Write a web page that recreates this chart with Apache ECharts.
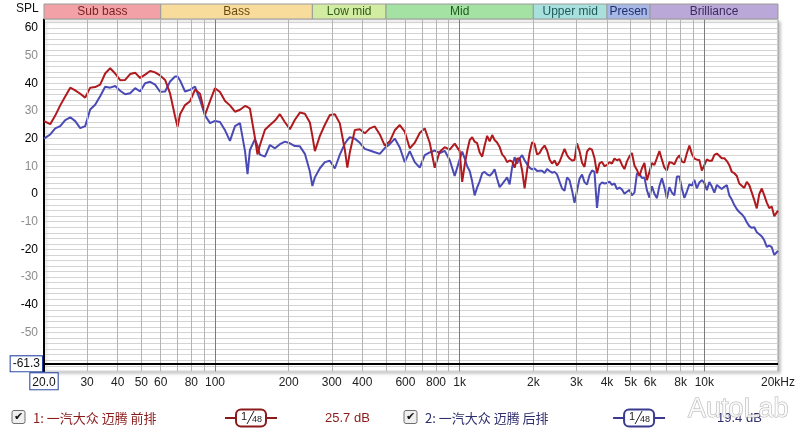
<!DOCTYPE html>
<html><head><meta charset="utf-8">
<script src="https://cdn.jsdelivr.net/npm/echarts@6/dist/echarts.min.js"></script>
<style>html,body{margin:0;padding:0;background:#fff}#c{width:800px;height:434px}</style>
</head><body><div id="c"></div>
<script>
// ---------- data ----------
const freqs = [
 20, 21.21, 22.23, 23.30, 24.42, 25.60, 26.83, 28.12, 29.47, 30.89,
 32.37, 33.93, 35.56, 37.28, 39.07, 40.95, 42.92, 44.99, 47.15, 49.42,
 51.80, 54.29, 56.90, 59.64, 62.51, 65.51, 68.67, 70.30, 71.97, 75.43,
 79.06, 82.86, 86.85, 91.03, 95.41,
 100, 104.8, 109.9, 115.1, 120.7, 126.5, 132.6, 135.8, 138.9, 145.6,
 149.1, 152.6, 160.0, 167.7, 175.8, 184.2, 193.1, 202.4, 212.1, 222.3,
 233.0, 244.2, 250.0, 256.0, 268.3, 281.2, 294.7, 308.9, 323.7, 339.3,
 347.4, 355.6, 372.8, 390.7, 409.5, 429.2, 449.9, 471.5, 494.2, 518.0,
 542.9, 569.0, 596.4, 625.1, 655.1, 686.7, 719.7, 754.3, 790.6, 828.6,
 868.5, 910.3, 954.1,
 1000, 1024, 1048, 1073, 1099, 1125, 1151, 1178, 1207, 1236,
 1265, 1295, 1326, 1358, 1389, 1422, 1456, 1491, 1526, 1562,
 1600, 1638, 1677, 1717, 1758, 1800, 1842, 1886, 1931, 1977,
 2024, 2072, 2121, 2171, 2223, 2276, 2330, 2385, 2442, 2500,
 2560, 2621, 2683, 2747, 2812, 2879, 2947, 3017, 3089, 3163,
 3237, 3314, 3393, 3474, 3556, 3641, 3728, 3817, 3907, 4000,
 4095, 4192, 4292, 4394, 4499, 4606, 4715, 4827, 4942, 5060,
 5180, 5303, 5429, 5558, 5690, 5825, 5964, 6106, 6251, 6400,
 6551, 6707, 6867, 7030, 7197, 7368, 7543, 7723, 7906, 8094,
 8286, 8483, 8685, 8892, 9103, 9320, 9541, 9768, 10000, 10240,
 10480, 10730, 10990, 11250, 11510, 11780, 12070, 12360, 12650, 12950,
 13260, 13580, 13890, 14220, 14560, 14910, 15260, 15620, 16000, 16380,
 16770, 17170, 17580, 18000, 18420, 18860, 19310, 20000
];
const frontRow = [
 26.3, 25.2, 28.3, 32.0, 35.2, 38.4, 37.4, 36.2, 34.8, 38.4,
 38.6, 39.5, 43.5, 45.4, 43.5, 41.1, 41.2, 43.3, 43.8, 41.9,
 43.1, 44.4, 43.9, 42.8, 41.2, 36.3, 28.0, 24.3, 28.8, 32.1,
 33.5, 37.7, 36.2, 28.6, 33.5,
 38.2, 36.8, 33.6, 32.0, 29.7, 30.4, 31.8, 31.4, 30.8, 20.3,
 14.3, 17.6, 23.2, 24.9, 26.5, 28.8, 25.9, 23.4, 26.8, 29.4,
 29.0, 25.8, 21.0, 15.5, 21.0, 25.0, 28.5, 28.8, 25.5, 16.0,
 9.5, 15.0, 23.1, 23.4, 21.9, 23.7, 24.4, 21.5, 17.5, 19.0,
 23.0, 24.9, 22.5, 16.5, 18.5, 22.0, 23.7, 18.5, 9.5, 15.3,
 16.9, 16.0, 18.2,
 15.5, 4.4, 10.5, 15.5, 19.5, 20.5, 18.9, 18.4, 15.0, 13.5,
 17.5, 21.0, 19.0, 21.3, 19.5, 18.6, 17.0, 14.3, 13.3, 11.5,
 12.1, 11.8, 9.5, 12.8, 12.8, 8.5, 2.0, 8.6, 14.8, 18.7,
 18.0, 14.3, 14.8, 16.4, 17.5, 15.7, 12.5, 11.0, 12.1, 10.3,
 11.6, 14.0, 16.3, 14.0, 12.8, 12.1, 12.3, 18.3, 15.5, 11.3,
 9.8, 15.3, 16.5, 16.0, 13.0, 7.5, 11.1, 11.6, 10.0, 10.5,
 11.5, 11.0, 12.8, 12.2, 12.6, 10.5, 9.0, 11.8, 13.6, 14.8,
 10.3, 8.7, 6.5, 9.3, 11.2, 5.0, 8.0, 11.2, 10.5, 13.0,
 15.5, 12.4, 9.5, 8.5, 11.5, 11.3, 10.7, 12.8, 14.0, 11.7,
 11.4, 14.7, 17.5, 14.5, 12.8, 12.4, 12.3, 8.5, 10.4, 12.5,
 12.0, 12.0, 14.1, 14.6, 13.8, 12.9, 12.9, 11.9, 10.4, 8.0,
 7.5, 6.5, 3.8, 3.0, 2.2, 4.4, 3.2, 0.6, -2.2, -5.2,
 0.0, 2.0, -0.5, -3.1, -5.1, -4.5, -8.0, -6.0
];
const rearRow = [
 20.0, 21.5, 23.7, 24.5, 26.7, 27.7, 26.3, 23.8, 24.5, 30.5,
 32.2, 35.3, 38.7, 38.4, 39.0, 37.3, 36.0, 36.4, 38.2, 37.0,
 40.0, 40.5, 39.5, 36.9, 37.0, 40.6, 42.4, 42.4, 41.0, 37.0,
 37.6, 38.8, 34.0, 28.4, 25.6,
 26.4, 26.0, 23.0, 19.2, 24.5, 25.6, 15.5, 7.2, 15.9, 19.8,
 17.5, 14.2, 13.5, 17.7, 16.5, 18.0, 18.9, 18.3, 17.3, 17.2,
 14.5, 8.1, 2.9, 6.0, 9.3, 11.5, 12.0, 9.2, 14.2, 18.2,
 19.5, 20.5, 20.0, 18.5, 16.3, 15.7, 15.1, 14.5, 16.6, 18.0,
 20.0, 16.8, 11.5, 15.5, 11.5, 9.5, 14.0, 15.0, 15.7, 14.8,
 15.6, 12.3, 6.5,
 12.5, 15.3, 12.9, 10.0, 8.3, 4.5, -0.5, 2.3, 4.6, 7.5,
 8.0, 7.1, 6.6, 7.5, 8.9, 5.5, 2.5, 3.6, 4.7, 6.0,
 3.5, 9.7, 13.3, 11.0, 12.9, 14.0, 12.2, 10.8, 9.5, 8.9,
 9.2, 8.3, 8.4, 8.4, 7.6, 9.0, 8.3, 7.7, 8.0, 7.1,
 4.5, 2.0, 1.2, 6.0, 5.0, 1.3, -3.2, 1.2, 5.5, 7.0,
 4.3, 3.4, 6.8, 8.5, 8.0, -5.0, 3.2, 4.2, 3.8, 4.0,
 4.5, 3.3, 3.8, 1.8, 2.3, 1.6, 0.1, 0.8, 1.5, -0.5,
 0.5, 7.4, 7.3, 5.8, 6.0, 1.4, -1.3, 2.8, 0.1, -1.5,
 2.9, 5.7, 2.4, -1.6, 2.5, 0.5, -0.5, 6.3, 6.3, 2.0,
 -1.4, 0.9, 3.5, 3.0, 5.1, 2.0, 4.2, 5.0, 4.0, 1.4,
 4.3, 2.7, 0.5, 3.3, 2.5, 1.8, 2.6, 3.2, -0.5, -2.0,
 -4.0, -5.5, -6.5, -7.3, -8.4, -10.2, -11.6, -12.2, -12.0, -13.8,
 -14.5, -15.3, -16.7, -19.1, -18.6, -19.2, -22.0, -20.5
];
const gridFreqs = [30,40,50,60,70,80,90,100,200,300,400,500,600,700,800,900,
  1000,2000,3000,4000,5000,6000,7000,8000,9000,10000];
const majorFreqs = [100,1000,10000];
const xTickLabels = [20,30,40,50,60,80,100,200,300,400,600,800,1000,2000,3000,4000,5000,6000,8000,10000,20000];
const bandNames = ['Sub bass','Bass','Low mid','Mid','Upper mid','Presen','Brilliance'];
const bandEdges = [20,60,250,500,2000,4000,6000,20000];
const bandColors = ['#f2a2a6','#f7dc9c','#d2eca2','#a4e2a4','#a8e0de','#a8b8e6','#baa8d8'];
const bandTextColors = ['#7a1e1e','#6b4a10','#2e5a1a','#1e5a1e','#1e5a5a','#1e2e6e','#3e2a5e'];
const minLevel = -61.3;
const seriesNames = ['1: 一汽大众 迈腾 前排','2: 一汽大众 迈腾 后排'];
const seriesLevels = ['25.7 dB','19.4 dB'];
const smoothingLabel = ['1', '48'];

// ---------- chart ----------
const FONT = 'Liberation Sans, Arial, sans-serif';
const redC = '#b01a1e', blueC = '#4a4ab6';
const fmtFreq = f => f === 20 ? '20.0' : f === 20000 ? '20kHz' : f >= 1000 ? (f/1000)+'k' : String(f);

const markLineData = [];
gridFreqs.forEach(f => markLineData.push({
  xAxis: f, lineStyle: {color: majorFreqs.includes(f) ? '#7c7c7c' : '#b4b4b4', width: 1, type: 'solid'},
  label: {show: false}
}));
xTickLabels.forEach(f => markLineData.push({
  xAxis: f, lineStyle: {color: 'rgba(0,0,0,0)', width: 0},
  label: f === 20 ? {
    show: true, position: 'start', distance: 2, formatter: fmtFreq(f), color: '#111',
    fontSize: 12, fontFamily: FONT, borderColor: '#2040a0', borderWidth: 1,
    backgroundColor: '#fff', padding: [3, 2, 1, 2]
  } : {
    show: true, position: 'start', distance: 5, formatter: fmtFreq(f), color: '#222',
    fontSize: 12, fontFamily: FONT
  }
}));
markLineData.push({
  yAxis: minLevel, lineStyle: {color: '#000', width: 2, type: 'solid'},
  label: {show: true, position: 'start', distance: 2, formatter: String(minLevel), color: '#111',
    fontSize: 12, fontFamily: FONT, borderColor: '#2040a0', borderWidth: 1,
    backgroundColor: '#fff', padding: [2, 2, 1, 2]}
});

function legendItem(i, x0, color, txtColor) {
  const cy = 418;
  const sym = [225, 277, 236], lvlX = 325, txtX = 33;
  const dx = x0 - 12;
  const sx = dx * 0.99;
  return [
    {type:'rect', shape:{x:x0, y:410.5, width:13, height:13, r:2}, style:{fill:'#efefef', stroke:'#6e6e6e', lineWidth:1}},
    {type:'text', x:x0+6.5, y:417, style:{text:'✔', fontSize:11, fontFamily:'DejaVu Sans', fill:'#111', align:'center', verticalAlign:'middle'}},
    {type:'text', x:txtX+dx, y:cy, style:{text:seriesNames[i], fontSize:13, fontFamily:'Noto Sans CJK SC', fill:txtColor, verticalAlign:'middle'}},
    {type:'line', shape:{x1:sym[0]+sx, y1:cy, x2:sym[1]+sx, y2:cy}, style:{stroke:color, lineWidth:2}},
    {type:'rect', shape:{x:sym[2]+sx, y:409.5, width:30, height:17, r:5}, style:{fill:'#fff', stroke:color, lineWidth:2}},
    {type:'text', x:sym[2]+sx+5, y:411, style:{text:smoothingLabel[0], fontSize:11, fontFamily:FONT, fill:'#222'}},
    {type:'line', shape:{x1:sym[2]+sx+11, y1:424, x2:sym[2]+sx+18, y2:411}, style:{stroke:'#222', lineWidth:1}},
    {type:'text', x:sym[2]+sx+16, y:415.5, style:{text:smoothingLabel[1], fontSize:9, fontFamily:FONT, fill:'#222'}},
    {type:'text', x:lvlX+dx, y:cy, style:{text:seriesLevels[i], fontSize:13, fontFamily:FONT, fill:txtColor, verticalAlign:'middle'}}
  ];
}

const option = {
  animation: false,
  backgroundColor: '#fff',
  grid: [
    {left: 44, right: 22, top: 19.5, bottom: 62.7, show: true, backgroundColor: '#fff',
     borderColor: '#9a9a9a', borderWidth: 1, shadowColor: 'rgba(0,0,0,0.25)', shadowBlur: 3,
     shadowOffsetX: 2, shadowOffsetY: 2},
    {left: 44, right: 22, top: 4, height: 15}
  ],
  xAxis: [
    {type: 'log', logBase: 10, min: 20, max: 20000, gridIndex: 0,
     axisLine: {show: false}, axisTick: {show: false}, axisLabel: {show: false}, splitLine: {show: false}},
    {type: 'log', logBase: 10, min: 20, max: 20000, gridIndex: 1, show: false}
  ],
  yAxis: [
    {type: 'value', min: -64, max: 63, interval: 2, gridIndex: 0,
     axisLine: {show: true, onZero: false, lineStyle: {color: '#000', width: 2}},
     axisTick: {show: false},
     splitLine: {show: true, lineStyle: {color: '#d4d4d4', width: 1}},
     axisLabel: {
       margin: 6, fontFamily: FONT, fontSize: 12,
       formatter: v => (v > -60 && v % 20 === 0) ? '{k|' + v + '}' : (v > -60 && v % 10 === 0) ? '{g|' + v + '}' : '',
       rich: {k: {color: '#000', fontSize: 12, fontFamily: FONT}, g: {color: '#8c8c8c', fontSize: 12, fontFamily: FONT}}
     }},
    {type: 'value', min: 0, max: 1, gridIndex: 1, show: false}
  ],
  series: [
    {type: 'line', data: [], xAxisIndex: 0, yAxisIndex: 0, silent: true, z: 1,
     markLine: {silent: true, symbol: ['none', 'none'], animation: false, data: markLineData}},
    {type: 'line', name: seriesNames[0], xAxisIndex: 0, yAxisIndex: 0, z: 4,
     data: freqs.map((f, i) => [f, frontRow[i]]), showSymbol: false, symbol: 'none',
     lineStyle: {color: redC, width: 2}},
    {type: 'line', name: seriesNames[1], xAxisIndex: 0, yAxisIndex: 0, z: 3,
     data: freqs.map((f, i) => [f, rearRow[i]]), showSymbol: false, symbol: 'none',
     lineStyle: {color: blueC, width: 2}},
    {type: 'line', data: [], xAxisIndex: 1, yAxisIndex: 1, silent: true,
     markArea: {silent: true,
       label: {show: true, position: 'inside', fontSize: 12, fontFamily: FONT},
       data: bandNames.map((n, i) => [
         {name: n, xAxis: bandEdges[i],
          itemStyle: {color: bandColors[i], borderColor: '#9a9a9a', borderWidth: 1},
          label: {color: bandTextColors[i]}},
         {xAxis: bandEdges[i + 1]}
       ])}}
  ],
  graphic: [
    {type: 'text', left: 16, top: 3, style: {text: 'SPL', fontSize: 12, fontFamily: FONT, fill: '#111'}},
    ...legendItem(0, 12, '#8b1a1a', '#8b1a1a'),
    ...legendItem(1, 404, '#3a3a8e', '#2e2e6e'),
    {type: 'text', x: 688, y: 396, z: 100, style: {text: 'AutoLab', fontSize: 27, fontFamily: FONT,
      fill: 'rgba(255,255,255,0.75)', stroke: '#b4b4b4', lineWidth: 1}}
  ]
};
echarts.init(document.getElementById('c'), null, {renderer: 'canvas'}).setOption(option);
</script>
</body></html>
